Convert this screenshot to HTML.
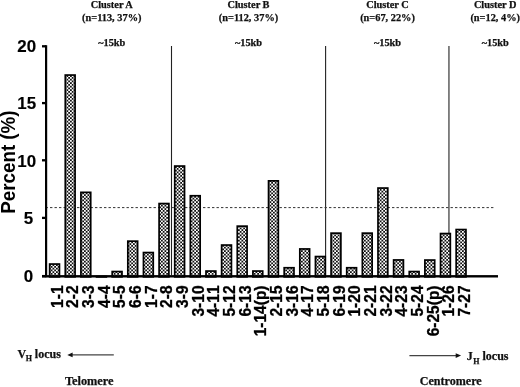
<!DOCTYPE html>
<html><head><meta charset="utf-8"><title>Percent by cluster</title>
<style>
html,body{margin:0;padding:0;background:#fff}
body{width:520px;height:387px;overflow:hidden}
svg{display:block}
.s{font-family:"Liberation Serif","Times New Roman",serif;font-weight:bold;fill:#111;stroke:#111;stroke-width:0.25px}
.a{font-family:"Liberation Sans",Arial,sans-serif;font-weight:bold;fill:#000;font-kerning:none}
.b{stroke:#000;stroke-width:0.15px}
.c{stroke:#000;stroke-width:0.3px}
</style></head><body>
<svg width="520" height="387" viewBox="0 0 520 387">
<defs><pattern id="p" width="3.5" height="3.5" patternUnits="userSpaceOnUse"><rect width="3.5" height="3.5" fill="#111"/><rect x="0" y="0" width="1.75" height="1.75" fill="#fff"/><rect x="1.75" y="1.75" width="1.75" height="1.75" fill="#fff"/></pattern></defs>
<rect width="520" height="387" fill="#fff"/>
<text class="s" x="111.75" y="8.0" font-size="10.35" text-anchor="middle">Cluster A</text>
<text class="s" x="111.75" y="20.9" font-size="10.35" text-anchor="middle">(n=113, 37%)</text>
<text class="s" x="111.75" y="45.5" font-size="10.3" text-anchor="middle">~15kb</text>
<text class="s" x="248.5" y="8.0" font-size="10.35" text-anchor="middle">Cluster B</text>
<text class="s" x="248.5" y="20.9" font-size="10.35" text-anchor="middle">(n=112, 37%)</text>
<text class="s" x="248.5" y="45.5" font-size="10.3" text-anchor="middle">~15kb</text>
<text class="s" x="387.5" y="8.0" font-size="10.35" text-anchor="middle">Cluster C</text>
<text class="s" x="387.5" y="20.9" font-size="10.35" text-anchor="middle">(n=67, 22%)</text>
<text class="s" x="387.5" y="45.5" font-size="10.3" text-anchor="middle">~15kb</text>
<text class="s" x="495.2" y="8.0" font-size="10.35" text-anchor="middle">Cluster D</text>
<text class="s" x="495.2" y="20.9" font-size="10.35" text-anchor="middle">(n=12, 4%)</text>
<text class="s" x="495.2" y="45.5" font-size="10.3" text-anchor="middle">~15kb</text>
<line x1="171.5" y1="46" x2="171.5" y2="275" stroke="#222" stroke-width="1.1"/>
<line x1="325.6" y1="46" x2="325.6" y2="275" stroke="#222" stroke-width="1.1"/>
<line x1="448.95" y1="46" x2="448.95" y2="275" stroke="#222" stroke-width="1.1"/>
<line x1="45.5" y1="207.6" x2="494.3" y2="207.6" stroke="#333" stroke-width="1" stroke-dasharray="2.4 2.1"/>
<rect x="49.65" y="264.05" width="9.80" height="12.80" fill="url(#p)" stroke="#000" stroke-width="1.7"/>
<rect x="65.28" y="75.05" width="9.80" height="201.80" fill="url(#p)" stroke="#000" stroke-width="1.7"/>
<rect x="80.92" y="192.35" width="9.80" height="84.50" fill="url(#p)" stroke="#000" stroke-width="1.7"/>
<rect x="95.70" y="275.6" width="11.50" height="2.2" fill="#000"/>
<rect x="112.19" y="271.55" width="9.80" height="5.30" fill="url(#p)" stroke="#000" stroke-width="1.7"/>
<rect x="127.82" y="241.15" width="9.80" height="35.70" fill="url(#p)" stroke="#000" stroke-width="1.7"/>
<rect x="143.46" y="252.55" width="9.80" height="24.30" fill="url(#p)" stroke="#000" stroke-width="1.7"/>
<rect x="159.09" y="203.55" width="9.80" height="73.30" fill="url(#p)" stroke="#000" stroke-width="1.7"/>
<rect x="174.73" y="166.05" width="9.80" height="110.80" fill="url(#p)" stroke="#000" stroke-width="1.7"/>
<rect x="190.36" y="195.75" width="9.80" height="81.10" fill="url(#p)" stroke="#000" stroke-width="1.7"/>
<rect x="206.00" y="271.05" width="9.80" height="5.80" fill="url(#p)" stroke="#000" stroke-width="1.7"/>
<rect x="221.63" y="245.05" width="9.80" height="31.80" fill="url(#p)" stroke="#000" stroke-width="1.7"/>
<rect x="237.27" y="226.15" width="9.80" height="50.70" fill="url(#p)" stroke="#000" stroke-width="1.7"/>
<rect x="252.91" y="271.05" width="9.80" height="5.80" fill="url(#p)" stroke="#000" stroke-width="1.7"/>
<rect x="268.54" y="180.85" width="9.80" height="96.00" fill="url(#p)" stroke="#000" stroke-width="1.7"/>
<rect x="284.18" y="267.75" width="9.80" height="9.10" fill="url(#p)" stroke="#000" stroke-width="1.7"/>
<rect x="299.81" y="248.95" width="9.80" height="27.90" fill="url(#p)" stroke="#000" stroke-width="1.7"/>
<rect x="315.45" y="256.55" width="9.80" height="20.30" fill="url(#p)" stroke="#000" stroke-width="1.7"/>
<rect x="331.08" y="233.15" width="9.80" height="43.70" fill="url(#p)" stroke="#000" stroke-width="1.7"/>
<rect x="346.72" y="267.75" width="9.80" height="9.10" fill="url(#p)" stroke="#000" stroke-width="1.7"/>
<rect x="362.35" y="233.15" width="9.80" height="43.70" fill="url(#p)" stroke="#000" stroke-width="1.7"/>
<rect x="377.99" y="188.05" width="9.80" height="88.80" fill="url(#p)" stroke="#000" stroke-width="1.7"/>
<rect x="393.62" y="259.95" width="9.80" height="16.90" fill="url(#p)" stroke="#000" stroke-width="1.7"/>
<rect x="409.26" y="271.55" width="9.80" height="5.30" fill="url(#p)" stroke="#000" stroke-width="1.7"/>
<rect x="424.89" y="260.05" width="9.80" height="16.80" fill="url(#p)" stroke="#000" stroke-width="1.7"/>
<rect x="440.53" y="233.55" width="9.80" height="43.30" fill="url(#p)" stroke="#000" stroke-width="1.7"/>
<rect x="456.16" y="229.55" width="9.80" height="47.30" fill="url(#p)" stroke="#000" stroke-width="1.7"/>
<rect x="45" y="45.2" width="2.2" height="232" fill="#000"/>
<rect x="42" y="275.1" width="456" height="2.4" fill="#000"/>
<rect x="42" y="274.95" width="4" height="2.3" fill="#000"/>
<text class="a b" transform="translate(33.1,281.50) scale(1.04,1)" font-size="16.3" text-anchor="end">0</text>
<rect x="42" y="216.75" width="4" height="2.3" fill="#000"/>
<text class="a b" transform="translate(33.1,224.10) scale(1.04,1)" font-size="16.3" text-anchor="end">5</text>
<rect x="42" y="159.15" width="4" height="2.3" fill="#000"/>
<text class="a b" transform="translate(36.1,166.70) scale(1.04,1)" font-size="16.3" text-anchor="end">10</text>
<rect x="42" y="101.95" width="4" height="2.3" fill="#000"/>
<text class="a b" transform="translate(36.1,109.30) scale(1.04,1)" font-size="16.3" text-anchor="end">15</text>
<rect x="42" y="45.15" width="4" height="2.3" fill="#000"/>
<text class="a b" transform="translate(36.1,51.90) scale(1.04,1)" font-size="16.3" text-anchor="end">20</text>
<text class="a" transform="translate(15,162.1) rotate(-90) scale(1,1.04)" font-size="18.8" text-anchor="middle">Percent (%)</text>
<text class="a c" transform="translate(62.60,285.5) rotate(-90) scale(1,1.04)" font-size="15.5" text-anchor="end">1-1</text>
<text class="a c" transform="translate(78.27,285.5) rotate(-90) scale(1,1.04)" font-size="15.5" text-anchor="end">2-2</text>
<text class="a c" transform="translate(93.94,285.5) rotate(-90) scale(1,1.04)" font-size="15.5" text-anchor="end">3-3</text>
<text class="a c" transform="translate(109.61,285.5) rotate(-90) scale(1,1.04)" font-size="15.5" text-anchor="end">4-4</text>
<text class="a c" transform="translate(125.28,285.5) rotate(-90) scale(1,1.04)" font-size="15.5" text-anchor="end">5-5</text>
<text class="a c" transform="translate(140.95,285.5) rotate(-90) scale(1,1.04)" font-size="15.5" text-anchor="end">6-6</text>
<text class="a c" transform="translate(156.62,285.5) rotate(-90) scale(1,1.04)" font-size="15.5" text-anchor="end">1-7</text>
<text class="a c" transform="translate(172.29,285.5) rotate(-90) scale(1,1.04)" font-size="15.5" text-anchor="end">2-8</text>
<text class="a c" transform="translate(187.96,285.5) rotate(-90) scale(1,1.04)" font-size="15.5" text-anchor="end">3-9</text>
<text class="a c" transform="translate(203.63,285.5) rotate(-90) scale(1,1.04)" font-size="15.5" text-anchor="end">3-10</text>
<text class="a c" transform="translate(219.30,285.5) rotate(-90) scale(1,1.04)" font-size="15.5" text-anchor="end">4-11</text>
<text class="a c" transform="translate(234.97,285.5) rotate(-90) scale(1,1.04)" font-size="15.5" text-anchor="end">5-12</text>
<text class="a c" transform="translate(250.64,285.5) rotate(-90) scale(1,1.04)" font-size="15.5" text-anchor="end">6-13</text>
<text class="a c" transform="translate(266.31,285.5) rotate(-90) scale(1,1.04)" font-size="15.5" text-anchor="end">1-14(p)</text>
<text class="a c" transform="translate(281.98,285.5) rotate(-90) scale(1,1.04)" font-size="15.5" text-anchor="end">2-15</text>
<text class="a c" transform="translate(297.65,285.5) rotate(-90) scale(1,1.04)" font-size="15.5" text-anchor="end">3-16</text>
<text class="a c" transform="translate(313.32,285.5) rotate(-90) scale(1,1.04)" font-size="15.5" text-anchor="end">4-17</text>
<text class="a c" transform="translate(328.99,285.5) rotate(-90) scale(1,1.04)" font-size="15.5" text-anchor="end">5-18</text>
<text class="a c" transform="translate(344.66,285.5) rotate(-90) scale(1,1.04)" font-size="15.5" text-anchor="end">6-19</text>
<text class="a c" transform="translate(360.33,285.5) rotate(-90) scale(1,1.04)" font-size="15.5" text-anchor="end">1-20</text>
<text class="a c" transform="translate(376.00,285.5) rotate(-90) scale(1,1.04)" font-size="15.5" text-anchor="end">2-21</text>
<text class="a c" transform="translate(391.67,285.5) rotate(-90) scale(1,1.04)" font-size="15.5" text-anchor="end">3-22</text>
<text class="a c" transform="translate(407.34,285.5) rotate(-90) scale(1,1.04)" font-size="15.5" text-anchor="end">4-23</text>
<text class="a c" transform="translate(423.01,285.5) rotate(-90) scale(1,1.04)" font-size="15.5" text-anchor="end">5-24</text>
<text class="a c" transform="translate(438.68,285.5) rotate(-90) scale(1,1.04)" font-size="15.5" text-anchor="end">6-25(p)</text>
<text class="a c" transform="translate(454.35,285.5) rotate(-90) scale(1,1.04)" font-size="15.5" text-anchor="end">1-26</text>
<text class="a c" transform="translate(470.02,285.5) rotate(-90) scale(1,1.04)" font-size="15.5" text-anchor="end">7-27</text>
<text class="s" x="17.4" y="357.8" font-size="12">V<tspan font-size="8" dy="3.3" dx="-0.4">H</tspan><tspan dy="-3.3" dx="-0.1"> locus</tspan></text>
<line x1="71" y1="354.9" x2="113.8" y2="354.9" stroke="#444" stroke-width="1.2"/><path d="M67.3 354.9 L72.6 352.6 L72.6 357.2 Z" fill="#111"/>
<text class="s" x="64.9" y="385.4" font-size="12.35">Telomere</text>
<line x1="409.4" y1="355.6" x2="457" y2="355.6" stroke="#444" stroke-width="1.2"/><path d="M461.1 355.6 L455.7 353.3 L455.7 357.9 Z" fill="#111"/>
<text class="s" x="466.8" y="360.2" font-size="12">J<tspan font-size="8" dy="3.3" dx="0.4">H</tspan><tspan dy="-3.3" dx="0.1"> locus</tspan></text>
<text class="s" x="419.7" y="385.3" font-size="12.1">Centromere</text>
</svg>
</body></html>
